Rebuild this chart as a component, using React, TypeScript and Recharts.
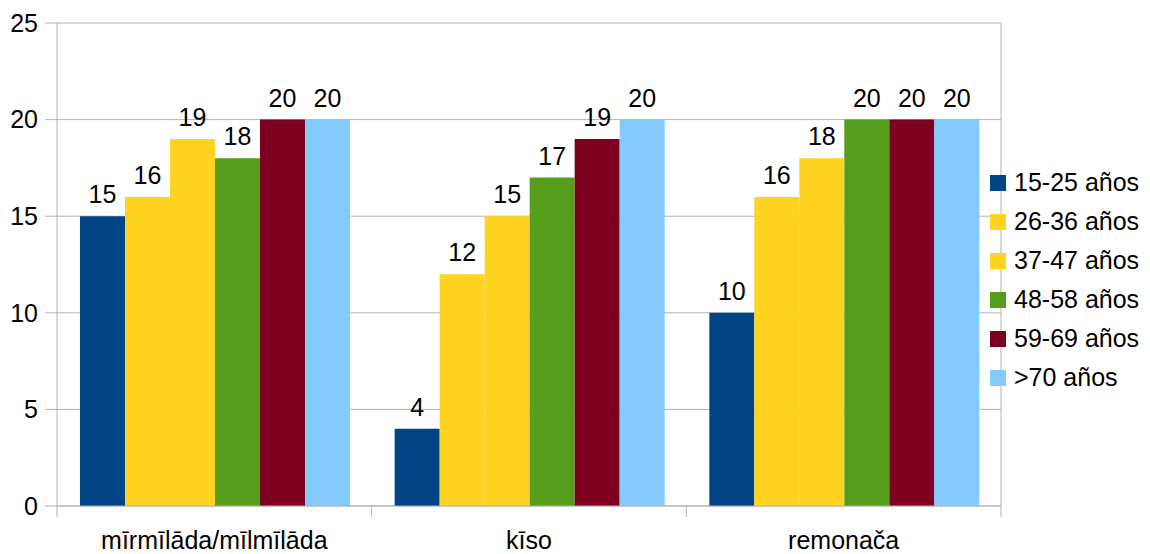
import React from 'react';
import { BarChart, Bar, XAxis, YAxis, CartesianGrid, LabelList } from 'recharts';

const CATEGORIES = ['mīrmīlāda/mīlmīlāda', 'kīso', 'remonača'];
const SERIES = ['15-25 años', '26-36 años', '37-47 años', '48-58 años', '59-69 años', '>70 años'];
const COLORS = ['#004586', '#ffd320', '#ffd320', '#579d1c', '#7e0021', '#83caff'];

const AGE_15_25 = [15, 4, 10];
const AGE_26_36 = [16, 12, 16];
const AGE_37_47 = [19, 15, 18];
const AGE_48_58 = [18, 17, 20];
const AGE_59_69 = [20, 19, 20];
const AGE_70_PLUS = [20, 20, 20];

const Y_TICKS = [0, 5, 10, 15, 20, 25];

const VALUES = [AGE_15_25, AGE_26_36, AGE_37_47, AGE_48_58, AGE_59_69, AGE_70_PLUS];

const data = CATEGORIES.map((name, i) => {
    const row: { [key: string]: string | number } = { name };
    SERIES.forEach((s, j) => {
        row[`s${j}`] = VALUES[j][i];
    });
    return row;
});

const FONT = '"Liberation Sans", Arial, sans-serif';
const GRID = '#b3b3b3';
const TICK_LEN = 11;
const TICK_GAP = 14;

// category label plus short tick marks on the band edges (left edge, and right edge for the last one)
const CategoryTick = ({ x, y, payload, index }: any) => {
    const half = payload.offset || 0;
    const axisY = y - TICK_LEN - TICK_GAP;
    return (
        <g>
            <line x1={x - half} x2={x - half} y1={axisY} y2={axisY + TICK_LEN} stroke={GRID} />
            {index === CATEGORIES.length - 1 && (
                <line x1={x + half} x2={x + half} y1={axisY} y2={axisY + TICK_LEN} stroke={GRID} />
            )}
            <text x={x} y={y} dy="0.71em" textAnchor="middle" fill="#000" fontSize={25}>
                {payload.value}
            </text>
        </g>
    );
};

const LegendBox = () => (
    <div style={{ position: 'absolute', left: 990, top: 163, fontFamily: FONT, fontSize: 25, color: '#000' }}>
        {SERIES.map((s, j) => (
            <div key={s} style={{ display: 'flex', alignItems: 'center', height: 39 }}>
                <span style={{ width: 16, height: 16, background: COLORS[j], display: 'inline-block', marginRight: 8 }} />
                <span>{s}</span>
            </div>
        ))}
    </div>
);

export default function App() {
    return (
        <div style={{ position: 'absolute', left: 0, top: 0, width: 1150, height: 554, background: '#fff' }}>
            <BarChart
                width={1150}
                height={554}
                data={data}
                margin={{ top: 23, right: 149, bottom: 0, left: 0 }}
                barCategoryGap={23}
                barGap={0}
                style={{ fontFamily: FONT }}
            >
                <CartesianGrid
                    stroke={GRID}
                    verticalCoordinatesGenerator={({ offset }: any) => [offset.left + offset.width]}
                />
                <XAxis
                    dataKey="name"
                    height={48}
                    tickLine={false}
                    tickSize={TICK_LEN}
                    tickMargin={TICK_GAP}
                    axisLine={{ stroke: GRID }}
                    tick={<CategoryTick />}
                    interval={0}
                />
                <YAxis
                    width={57}
                    domain={[0, 25]}
                    ticks={Y_TICKS}
                    tickSize={12}
                    tickMargin={7}
                    axisLine={{ stroke: GRID }}
                    tickLine={{ stroke: GRID }}
                    tick={{ fill: '#000', fontSize: 25 }}
                />
                {SERIES.map((s, j) => (
                    <Bar key={s} dataKey={`s${j}`} name={s} fill={COLORS[j]} isAnimationActive={false}>
                        <LabelList dataKey={`s${j}`} position="top" offset={13} fill="#000" fontSize={25} />
                    </Bar>
                ))}
            </BarChart>
            <LegendBox />
        </div>
    );
}
